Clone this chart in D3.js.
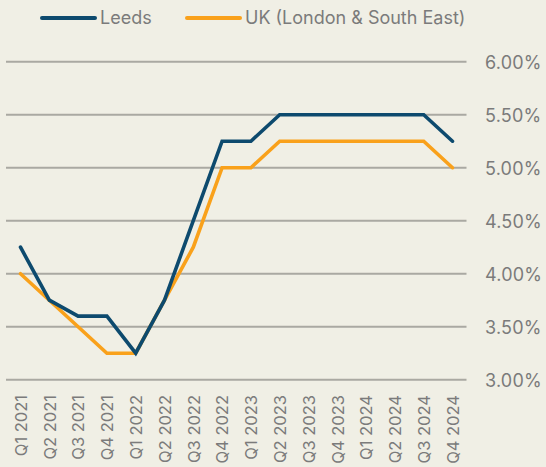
<!DOCTYPE html>
<html><head><meta charset="utf-8">
<script src="https://cdn.jsdelivr.net/npm/d3@7"></script>
<style>
html,body{margin:0;padding:0;background:#f0efe5;}
svg{display:block;font-family:Inter,"Liberation Sans",sans-serif;}
</style></head>
<body><svg id="c" width="546" height="467"></svg>
<script>
const categories = ["Q1 2021","Q2 2021","Q3 2021","Q4 2021","Q1 2022","Q2 2022","Q3 2022","Q4 2022","Q1 2023","Q2 2023","Q3 2023","Q4 2023","Q1 2024","Q2 2024","Q3 2024","Q4 2024"];
const leeds = [4.25,3.75,3.6,3.6,3.25,3.75,4.5,5.25,5.25,5.5,5.5,5.5,5.5,5.5,5.5,5.25];
const uk = [4.0,3.75,3.5,3.25,3.25,3.75,4.25,5.0,5.0,5.25,5.25,5.25,5.25,5.25,5.25,5.0];
const yTicks = [3.0,3.5,4.0,4.5,5.0,5.5,6.0];
const seriesNames = ["Leeds","UK (London & South East)"];
const colors = ["#0d4a6e","#f9a11b"];

const svg = d3.select("#c");
const x = d3.scalePoint().domain(categories).range([20.5, 452.5]);
const y = d3.scaleLinear().domain([3,6]).range([379.7, 61.7]);

// gridlines
svg.append("g").selectAll("line").data(yTicks).join("line")
  .attr("x1",6).attr("x2",466.5)
  .attr("y1",d=>y(d)).attr("y2",d=>y(d))
  .attr("stroke","#aaa9a2").attr("stroke-width",2);

// y labels
const yAxis = d3.axisRight(y).tickValues(yTicks).tickSize(0).tickPadding(0)
  .tickFormat(d=>d3.format(".2f")(d)+"%");
const gy = svg.append("g").attr("transform","translate(485,0)").call(yAxis);
gy.select(".domain").remove();
gy.selectAll("text").attr("fill","#7b7b7b").style("font-size","18px")
  .style("letter-spacing","0.2px")
  .style("font-family","Inter,'Liberation Sans',sans-serif").attr("dy","0.35em");

// x labels
const xAxis = d3.axisBottom(x).tickSize(0).tickPadding(0);
const gx = svg.append("g").attr("transform","translate(0,395)").call(xAxis);
gx.select(".domain").remove();
gx.selectAll("text").attr("fill","#7b7b7b").style("font-size","16.5px")
  .style("font-family","Inter,'Liberation Sans',sans-serif")
  .attr("transform","rotate(-90)").attr("text-anchor","end")
  .attr("x",0).attr("y",0).attr("dy","0.35em");

// lines
const line = d3.line().x((d,i)=>x(categories[i])).y(d=>y(d));
[uk, leeds].forEach((s,k)=>{
  const ci = k===0?1:0;
  svg.append("path").datum(s).attr("d",line).attr("fill","none")
    .attr("stroke",colors[ci]).attr("stroke-width",3.6)
    .attr("stroke-linejoin","miter").attr("stroke-linecap","round");
});

// legend
const legX = [41,186];
seriesNames.forEach((n,i)=>{
  const g = svg.append("g").attr("transform",`translate(${legX[i]},18)`);
  g.append("line").attr("x1",1).attr("x2",54).attr("y1",0).attr("y2",0)
    .attr("stroke",colors[i]).attr("stroke-width",4).attr("stroke-linecap","round");
  g.append("text").attr("x",59).attr("y",0).attr("dy","0.35em")
    .attr("fill","#7b7b7b").style("font-size","18px").text(n);
});
</script></body></html>
